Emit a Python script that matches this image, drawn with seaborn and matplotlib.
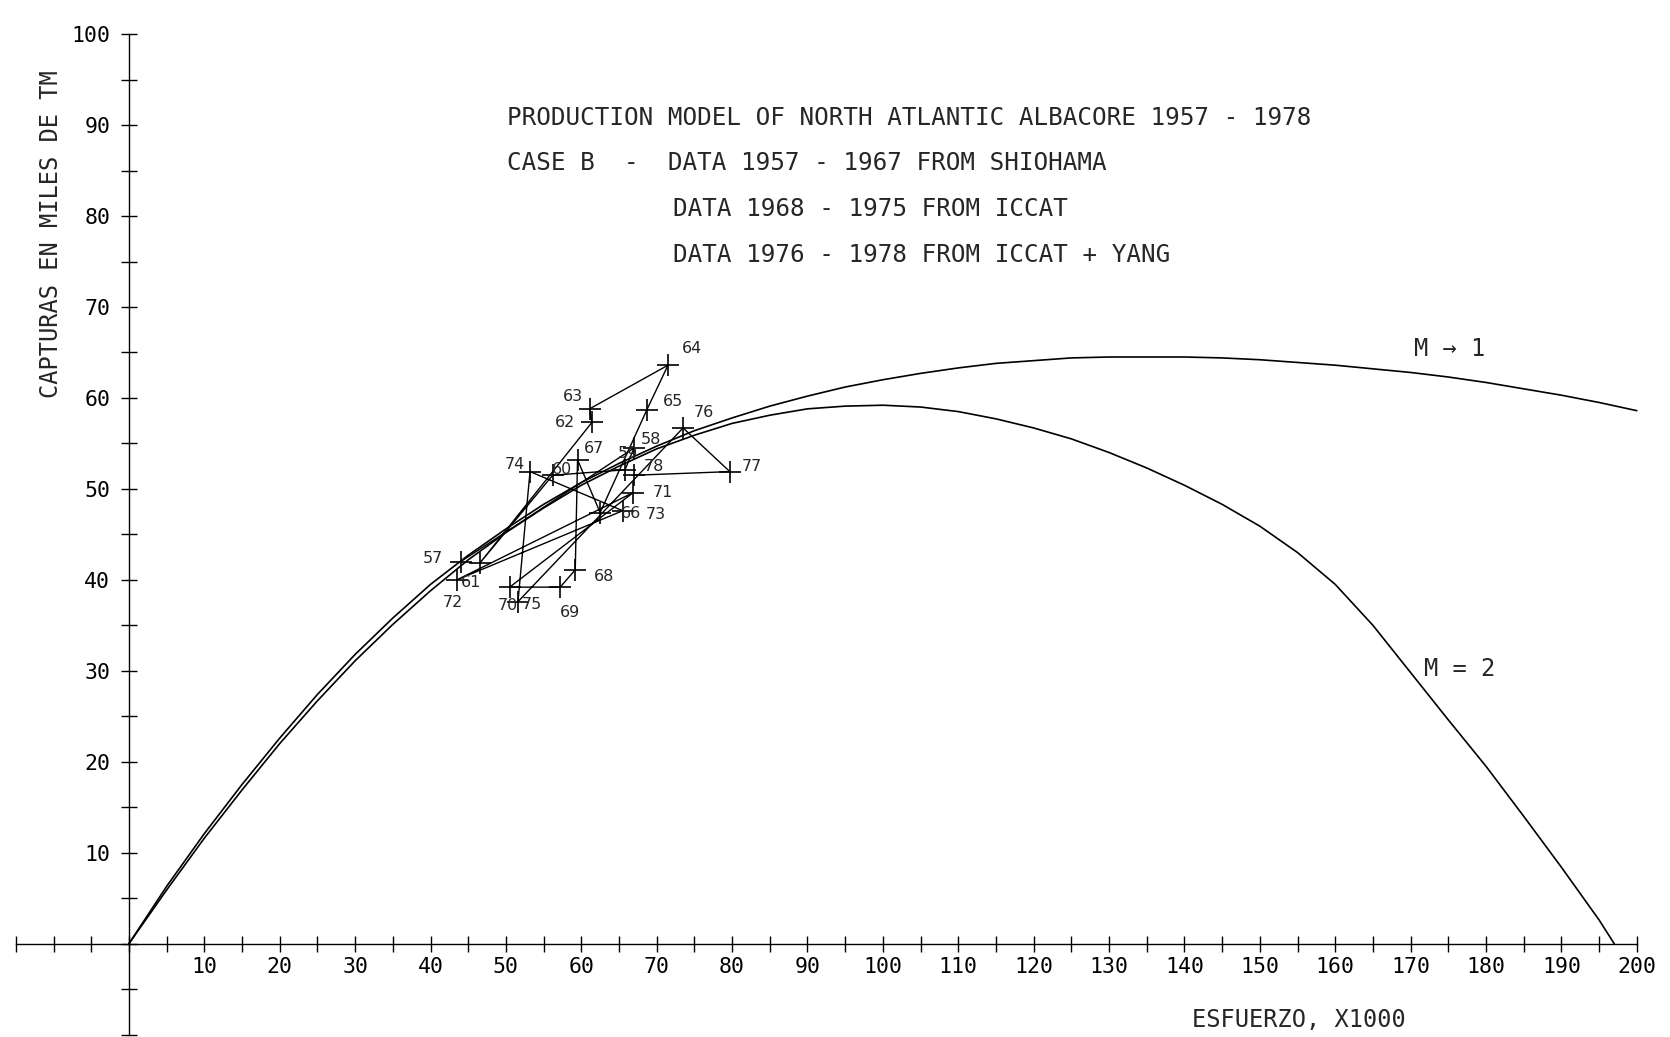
import matplotlib
matplotlib.use("Agg")
import pandas as pd
import seaborn as sns
from matplotlib import pyplot as plt
from matplotlib.ticker import FixedLocator, FuncFormatter

# observed effort (x1000) and catch (1000 t) by year
years = [57, 58, 59, 60, 61, 62, 63, 64, 65, 66, 67, 68, 69, 70, 71, 72, 73, 74, 75, 76, 77, 78]
effort = [44.0, 67.0, 65.8, 56.2, 46.5, 61.4, 61.1, 71.5, 68.7, 62.5, 59.5, 59.2,
          57.2, 50.5, 66.9, 43.5, 65.5, 53.2, 51.6, 73.5, 79.7, 67.0]
catch = [42.0, 54.5, 52.1, 51.5, 41.8, 57.3, 58.8, 63.6, 58.7, 47.4, 53.2, 41.1,
         39.2, 39.2, 49.6, 40.0, 47.6, 51.9, 37.6, 56.7, 51.9, 51.5]

# fitted curves (M -> 1 and M = 2)
curve1_x = [0, 5, 10, 15, 20, 25, 30, 35, 40, 45, 50, 55, 60, 65, 70, 75, 80, 85, 90, 95, 100,
            105, 110, 115, 120, 125, 130, 135, 140, 145, 150, 155, 160, 165, 170, 175, 180,
            185, 190, 195, 200]
curve1_y = [0, 6.3, 12.1, 17.5, 22.6, 27.4, 31.8, 35.8, 39.5, 42.7, 45.6, 48.3, 50.7, 52.8,
            54.7, 56.4, 57.8, 59.1, 60.2, 61.2, 62.0, 62.7, 63.3, 63.8, 64.1, 64.4, 64.5,
            64.5, 64.5, 64.4, 64.2, 63.9, 63.6, 63.2, 62.8, 62.3, 61.7, 61.0, 60.3, 59.5, 58.6]
curve2_x = [0, 5, 10, 15, 20, 25, 30, 35, 40, 45, 50, 55, 60, 65, 70, 75, 80, 85, 90, 95, 100,
            105, 110, 115, 120, 125, 130, 135, 140, 145, 150, 155, 160, 165, 170, 175, 180,
            185, 190, 195, 197]
curve2_y = [0, 5.9, 11.6, 16.9, 22.0, 26.7, 31.1, 35.1, 38.8, 42.2, 45.2, 47.9, 50.4, 52.5,
            54.4, 55.9, 57.2, 58.1, 58.8, 59.1, 59.2, 59.0, 58.5, 57.7, 56.7, 55.5, 54.0,
            52.3, 50.4, 48.3, 45.9, 43.0, 39.5, 35.0, 29.8, 24.6, 19.5, 14.0, 8.4, 2.6, 0]

# year label offsets (points)
label_offsets = {
    57: (-20, 2), 58: (12, 6), 59: (2, 12), 60: (7, 4), 61: (-6, -14), 62: (-19, 0),
    63: (-12, 9), 64: (17, 12), 65: (19, 6), 66: (22, -1), 67: (12, 8), 68: (21, -5),
    69: (7, -18), 70: (-1, -13), 71: (21, 0), 72: (-3, -16), 73: (24, -3), 74: (-11, 5),
    75: (10, -2), 76: (15, 11), 77: (16, 4), 78: (14, 6),
}

sns.set_style("white")
plt.rcParams["font.family"] = ["DejaVu Sans Mono", "DejaVu Sans"]

fig = plt.figure(figsize=(16.7, 10.37), dpi=100)
ax = fig.add_axes([0, 0, 1, 1])
ax.set_xlim(-17.1, 204.4)
ax.set_ylim(-10.26, 103.75)

lw = 1.2
sns.lineplot(x=curve1_x, y=curve1_y, ax=ax, color="black", linewidth=lw)
sns.lineplot(x=curve2_x, y=curve2_y, ax=ax, color="black", linewidth=lw)

obs = pd.DataFrame({"year": years, "effort": effort, "catch": catch})
sns.lineplot(data=obs, x="effort", y="catch", sort=False, estimator=None,
             ax=ax, color="black", linewidth=1.0)
sns.scatterplot(data=obs, x="effort", y="catch", marker="+", s=230,
                color="black", linewidth=1.2, ax=ax, zorder=3)
for yr, ex, cy in zip(years, effort, catch):
    dx, dy = label_offsets[yr]
    ax.annotate(str(yr), (ex, cy), xytext=(dx, dy), textcoords="offset points",
                ha="center", va="center", fontsize=11.5, family="DejaVu Sans")

# axes crossing at the origin
for side in ["top", "right"]:
    ax.spines[side].set_visible(False)
ax.spines["bottom"].set_position(("data", 0))
ax.spines["left"].set_position(("data", 0))
ax.spines["bottom"].set_bounds(-15, 200)
ax.spines["left"].set_bounds(-10, 100)
for side in ["bottom", "left"]:
    ax.spines[side].set_linewidth(1.0)
    ax.spines[side].set_color("black")

ax.xaxis.set_major_locator(FixedLocator(list(range(-15, 201, 5))))
ax.yaxis.set_major_locator(FixedLocator(list(range(-10, 101, 5))))
fmt = FuncFormatter(lambda v, p: f"{int(round(v))}" if v > 0 and round(v) % 10 == 0 else "")
ax.xaxis.set_major_formatter(fmt)
ax.yaxis.set_major_formatter(fmt)
ax.tick_params(axis="both", direction="inout", length=11, width=1.0, color="black",
               labelsize=15.5, labelcolor="black", bottom=True, left=True)
ax.tick_params(axis="x", pad=4)
ax.tick_params(axis="y", pad=8)

ax.set_xlabel("ESFUERZO, X1000", fontsize=17)
ax.xaxis.set_label_coords(0.778, 0.028)
ax.set_ylabel("CAPTURAS EN MILES DE TM", fontsize=17)
ax.yaxis.set_label_coords(0.038, 0.774)

ax.text(170.4, 65.4, "M → 1", fontsize=17, va="center", ha="left")
ax.text(171.8, 30.2, "M = 2", fontsize=17, va="center", ha="left")

fig.text(0.3036, 0.886, "PRODUCTION MODEL OF NORTH ATLANTIC ALBACORE 1957 - 1978",
         fontsize=17.5, va="center", ha="left")
fig.text(0.3036, 0.843, "CASE B  -  DATA 1957 - 1967 FROM SHIOHAMA",
         fontsize=17.5, va="center", ha="left")
fig.text(0.403, 0.798, "DATA 1968 - 1975 FROM ICCAT", fontsize=17.5, va="center", ha="left")
fig.text(0.403, 0.754, "DATA 1976 - 1978 FROM ICCAT + YANG", fontsize=17.5, va="center", ha="left")

fig.savefig("out.png", dpi=100, facecolor="white")
plt.close(fig)
